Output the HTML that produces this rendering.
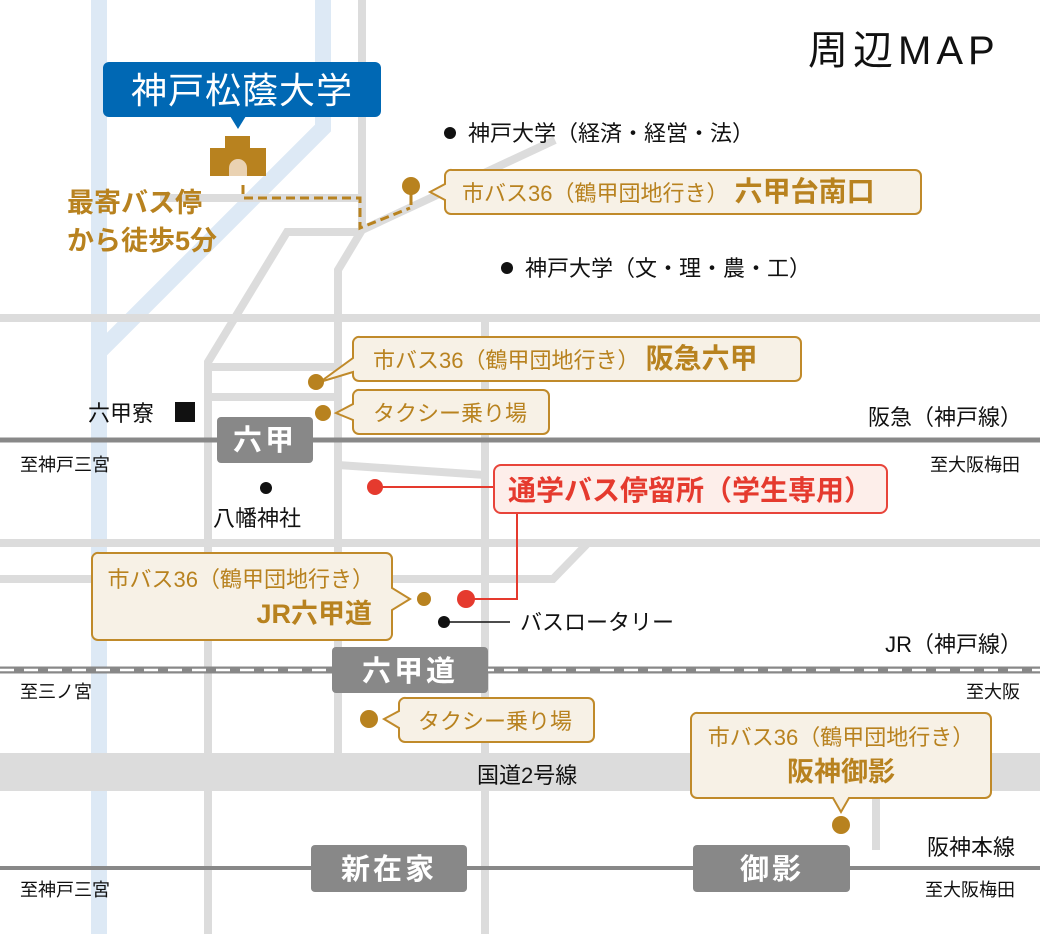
<!DOCTYPE html>
<html><head><meta charset="utf-8"><style>
html,body{margin:0;padding:0;background:#fff}
svg{display:block}
text{font-family:"Liberation Sans","Noto Sans CJK JP",sans-serif}
</style></head><body>
<svg width="1040" height="934" viewBox="0 0 1040 934" xmlns="http://www.w3.org/2000/svg">
<g fill="none" stroke="#dde9f5" stroke-width="16">
<line x1="99" y1="0" x2="99" y2="934"/>
<polyline points="323,0 323,128 99,352"/>
</g>
<g fill="none" stroke="#dcdcdc" stroke-width="8">
<polyline points="555,140 362,230 362,0"/>
<polyline points="362,230 338,270 338,753"/>
<line x1="160" y1="198" x2="362" y2="198"/>
<polyline points="362,232 287,232 208,362 208,934"/>
<line x1="0" y1="318" x2="1040" y2="318"/>
<line x1="212" y1="367" x2="338" y2="367"/>
<line x1="212" y1="397" x2="338" y2="397"/>
<line x1="485" y1="318" x2="485" y2="934"/>
<line x1="338" y1="465" x2="485" y2="475"/>
<line x1="0" y1="543" x2="1040" y2="543"/>
<polyline points="0,579 553,579 588,543"/>
<line x1="876" y1="792" x2="876" y2="850"/>
</g>
<rect x="0" y="753" width="1040" height="38" fill="#dcdcdc"/>
<line x1="0" y1="440" x2="1040" y2="440" stroke="#888" stroke-width="5"/>
<line x1="0" y1="670" x2="1040" y2="670" stroke="#888" stroke-width="7"/>
<line x1="0" y1="670" x2="1040" y2="670" stroke="#fff" stroke-width="2.5" stroke-dasharray="14,10"/>
<line x1="0" y1="868" x2="1040" y2="868" stroke="#888" stroke-width="4"/>
<g fill="#888">
<rect x="217" y="417" width="96" height="46" rx="4"/>
<rect x="332" y="647" width="156" height="46" rx="4"/>
<rect x="311" y="845" width="156" height="47" rx="4"/>
<rect x="693" y="845" width="157" height="47" rx="4"/>
</g>
<g fill="#fff" font-size="29" font-weight="bold" text-anchor="middle" letter-spacing="3">
<text x="265" y="450">六甲</text>
<text x="410" y="681">六甲道</text>
<text x="389" y="879">新在家</text>
<text x="772" y="879">御影</text>
</g>
<text x="808" y="64" font-size="40" fill="#111" letter-spacing="5">周辺MAP</text>
<rect x="103" y="62" width="278" height="55" rx="6" fill="#0068b4"/>
<polygon points="230,116 246,116 238,129" fill="#0068b4"/>
<text x="242" y="103" font-size="36" fill="#fff" text-anchor="middle" letter-spacing="1">神戸松蔭大学</text>
<rect x="225" y="136" width="25" height="14" fill="#b8821f"/>
<rect x="210" y="148" width="56" height="28" fill="#b8821f"/>
<path d="M229,176 V168 A9,9 0 0 1 247,168 V176 Z" fill="#ead2b2"/>
<polyline points="243,185 243,198 360,198 360,228 410,208" fill="none" stroke="#b8821f" stroke-width="3" stroke-dasharray="9,5"/>
<line x1="411" y1="186" x2="411" y2="205" stroke="#b8821f" stroke-width="3"/>
<circle cx="411" cy="186" r="9" fill="#b8821f"/>
<g fill="#b8821f" font-size="27" font-weight="bold">
<text x="67" y="212">最寄バス停</text>
<text x="67" y="250">から徒歩5分</text>
</g>
<g fill="#111">
<circle cx="450" cy="133" r="6"/>
<circle cx="507" cy="268" r="6"/>
<circle cx="266" cy="488" r="6"/>
<circle cx="444" cy="622" r="6"/>
<rect x="175" y="402" width="20" height="20"/>
</g>
<line x1="444" y1="622" x2="510" y2="622" stroke="#111" stroke-width="1.5"/>
<g fill="#111" font-size="22">
<text x="468" y="141">神戸大学（経済・経営・法）</text>
<text x="525" y="276">神戸大学（文・理・農・工）</text>
<text x="88" y="421">六甲寮</text>
<text x="213" y="526">八幡神社</text>
<text x="520" y="630">バスロータリー</text>
<text x="1022" y="425" text-anchor="end">阪急（神戸線）</text>
<text x="1022" y="652" text-anchor="end">JR（神戸線）</text>
<text x="477" y="783">国道2号線</text>
<text x="1015" y="855" text-anchor="end">阪神本線</text>
</g>
<g fill="#111" font-size="18">
<text x="20" y="471">至神戸三宮</text>
<text x="1020" y="471" text-anchor="end">至大阪梅田</text>
<text x="20" y="698">至三ノ宮</text>
<text x="1020" y="698" text-anchor="end">至大阪</text>
<text x="20" y="896">至神戸三宮</text>
<text x="1015" y="896" text-anchor="end">至大阪梅田</text>
</g>
<g fill="#f7f1e6" stroke="#c08a2a" stroke-width="2">
<path d="M452,170 H915 a6,6 0 0 1 6,6 V208 a6,6 0 0 1 -6,6 H451 a6,6 0 0 1 -6,-6 V200 L430,192 L445,184 V176 a6,6 0 0 1 7,-6 Z"/>
<path d="M360,337 H795 a6,6 0 0 1 6,6 V375 a6,6 0 0 1 -6,6 H359 a6,6 0 0 1 -6,-6 V372 L320,382 L353,358 V343 a6,6 0 0 1 7,-6 Z"/>
<path d="M360,390 H543 a6,6 0 0 1 6,6 V428 a6,6 0 0 1 -6,6 H359 a6,6 0 0 1 -6,-6 V420 L336,413 L353,404 V396 a6,6 0 0 1 7,-6 Z"/>
<path d="M99,553 H386 a6,6 0 0 1 6,6 V588 L410,599 L392,610 V634 a6,6 0 0 1 -6,6 H98 a6,6 0 0 1 -6,-6 V559 a6,6 0 0 1 7,-6 Z"/>
<path d="M406,698 H588 a6,6 0 0 1 6,6 V736 a6,6 0 0 1 -6,6 H405 a6,6 0 0 1 -6,-6 V728 L384,719 L399,711 V704 a6,6 0 0 1 7,-6 Z"/>
<path d="M698,713 H985 a6,6 0 0 1 6,6 V792 a6,6 0 0 1 -6,6 H849 L841,812 L833,798 H697 a6,6 0 0 1 -6,-6 V719 a6,6 0 0 1 7,-6 Z"/>
</g>
<g fill="#b8821f">
<circle cx="316" cy="382" r="8"/>
<circle cx="323" cy="413" r="8"/>
<circle cx="424" cy="599" r="7"/>
<circle cx="369" cy="719" r="9"/>
<circle cx="841" cy="825" r="9"/>
</g>
<g fill="#b8821f" font-size="22">
<text x="462" y="201">市バス36（鶴甲団地行き） <tspan font-weight="bold" font-size="28">六甲台南口</tspan></text>
<text x="373" y="368">市バス36（鶴甲団地行き） <tspan font-weight="bold" font-size="28">阪急六甲</tspan></text>
<text x="373" y="421">タクシー乗り場</text>
<text x="374" y="587" text-anchor="end">市バス36（鶴甲団地行き）</text>
<text x="372" y="623" text-anchor="end" font-weight="bold" font-size="27">JR六甲道</text>
<text x="418" y="729">タクシー乗り場</text>
<text x="841" y="745" text-anchor="middle">市バス36（鶴甲団地行き）</text>
<text x="841" y="781" text-anchor="middle" font-weight="bold" font-size="27">阪神御影</text>
</g>
<polyline points="375,487 494,487" fill="none" stroke="#e53a2e" stroke-width="2"/>
<polyline points="517,513 517,599 466,599" fill="none" stroke="#e53a2e" stroke-width="2"/>
<circle cx="375" cy="487" r="8" fill="#e53a2e"/>
<circle cx="466" cy="599" r="9" fill="#e53a2e"/>
<rect x="494" y="465" width="393" height="48" rx="7" fill="#fdeeea" stroke="#e8443a" stroke-width="2"/>
<text x="690" y="500" text-anchor="middle" fill="#e53a2e" font-size="28" font-weight="bold">通学バス停留所（学生専用）</text>
</svg>
</body></html>
